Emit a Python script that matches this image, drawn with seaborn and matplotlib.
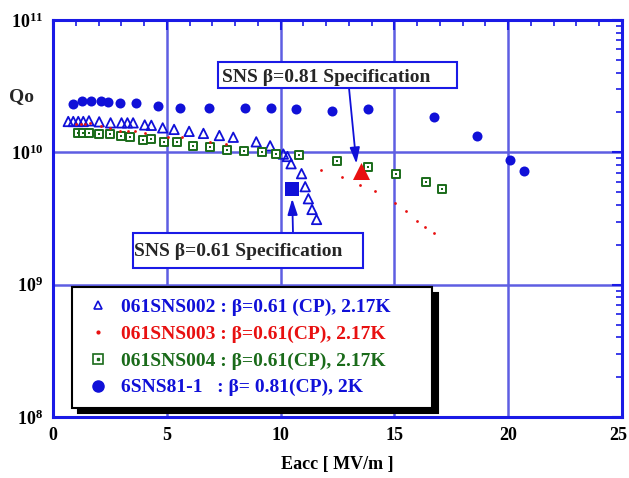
import numpy as np
import pandas as pd
import matplotlib
matplotlib.use("Agg")
import matplotlib.pyplot as plt
import matplotlib.transforms as mtransforms
import seaborn as sns
from matplotlib.lines import Line2D
from matplotlib.patches import Rectangle
from matplotlib.ticker import MultipleLocator, LogLocator, NullFormatter

# ---------------- data ----------------
tri_x = [0.67, 0.89, 1.11, 1.33, 1.58, 2.03, 2.53, 3.01, 3.27, 3.52, 4.03, 4.32, 4.82, 5.32,
         5.98, 6.61, 7.31, 7.92, 8.93, 9.54, 10.12, 10.30, 10.46, 10.92, 11.08, 11.22, 11.38, 11.58]
tri_y = [1.71e10, 1.71e10, 1.71e10, 1.71e10, 1.73e10, 1.70e10, 1.67e10, 1.67e10, 1.67e10, 1.67e10,
         1.61e10, 1.60e10, 1.53e10, 1.49e10, 1.44e10, 1.39e10, 1.34e10, 1.30e10, 1.20e10, 1.12e10,
         9.7e9, 9.3e9, 8.2e9, 6.9e9, 5.5e9, 4.46e9, 3.7e9, 3.11e9]

dot_x = [1.01, 1.21, 1.40, 1.62, 2.09, 2.50, 2.96, 3.30, 3.59, 4.03, 5.05, 5.68, 6.92, 7.60,
         11.79, 12.71, 13.49, 14.13, 15.02, 15.50, 15.99, 16.36, 16.73]
dot_y = [1.63e10, 1.63e10, 1.63e10, 1.66e10, 1.59e10, 1.54e10, 1.46e10, 1.46e10, 1.46e10, 1.41e10,
         1.30e10, 1.30e10, 1.20e10, 1.15e10, 7.4e9, 6.46e9, 5.68e9, 5.07e9, 4.16e9, 3.62e9,
         3.04e9, 2.71e9, 2.46e9]

sq_x = [1.11, 1.33, 1.59, 2.03, 2.50, 2.98, 3.37, 3.95, 4.32, 4.87, 5.44, 6.17, 6.90, 7.63,
        8.41, 9.18, 9.79, 10.79, 12.48, 13.84, 15.05, 16.41, 17.08]
sq_y = [1.41e10, 1.41e10, 1.41e10, 1.37e10, 1.37e10, 1.34e10, 1.31e10, 1.24e10, 1.26e10, 1.20e10,
        1.20e10, 1.12e10, 1.10e10, 1.05e10, 1.02e10, 1.00e10, 9.7e9, 9.6e9, 8.6e9, 7.8e9,
        6.9e9, 6.0e9, 5.3e9]

circ_x = [0.86, 1.26, 1.68, 2.10, 2.42, 2.95, 3.63, 4.60, 5.57, 6.86, 8.44, 9.59, 10.68, 12.27,
          13.85, 16.72, 18.62, 20.08, 20.70]
circ_y = [2.33e10, 2.45e10, 2.45e10, 2.45e10, 2.40e10, 2.35e10, 2.35e10, 2.24e10, 2.18e10,
          2.18e10, 2.18e10, 2.18e10, 2.12e10, 2.07e10, 2.12e10, 1.84e10, 1.32e10, 8.7e9, 7.2e9]

spec61_x, spec61_y = [10.51], [5.25e9]
spec81_x, spec81_y = [13.53], [7.2e9]

labels = ["061SNS002 : \u03b2=0.61 (CP), 2.17K",
          "061SNS003 : \u03b2=0.61(CP), 2.17K",
          "061SNS004 : \u03b2=0.61(CP), 2.17K",
          "6SNS81-1   : \u03b2= 0.81(CP), 2K"]
spec_labels = ["SNS \u03b2=0.81 Specification", "SNS \u03b2=0.61 Specification"]
x_ticks = [0, 5, 10, 15, 20, 25]
y_ticks = [1e8, 1e9, 1e10, 1e11]
y_ticklabels = [r"$\mathbf{10^{8}}$", r"$\mathbf{10^{9}}$", r"$\mathbf{10^{10}}$", r"$\mathbf{10^{11}}$"]

# ---------------- style ----------------
sns.set_theme(style="white")
plt.rcParams["font.family"] = ["Liberation Serif", "DejaVu Serif"]
plt.rcParams["font.weight"] = "bold"
plt.rcParams["mathtext.fontset"] = "custom"
plt.rcParams["mathtext.rm"] = "Liberation Serif:bold"
plt.rcParams["mathtext.bf"] = "Liberation Serif:bold"
plt.rcParams["mathtext.it"] = "Liberation Serif:bold"

BLUE = "#1010d8"
AXBLUE = "#1a1ae6"
GRID = "#5e5ee2"
RED = "#e81010"
GREEN = "#1a6b1a"

W, H = 629, 478
fig = plt.figure(figsize=(W / 100, H / 100), dpi=100)
ax = fig.add_axes([53 / W, 1 - 417 / H, 569 / W, 397 / H])

df_tri = pd.DataFrame({"x": tri_x, "y": tri_y})
df_dot = pd.DataFrame({"x": dot_x, "y": dot_y})
df_sq = pd.DataFrame({"x": sq_x, "y": sq_y})
df_circ = pd.DataFrame({"x": circ_x, "y": circ_y})

sns.scatterplot(data=df_circ, x="x", y="y", ax=ax, marker="o", s=52, color=BLUE,
                edgecolor=BLUE, linewidth=0, zorder=3)
sns.scatterplot(data=df_tri, x="x", y="y", ax=ax, marker="^", s=46, color=BLUE,
                facecolors="none", edgecolors=BLUE, linewidths=1.3, zorder=3)
sns.scatterplot(data=df_sq, x="x", y="y", ax=ax, marker="s", s=38, color=GREEN,
                facecolors="white", edgecolors=GREEN, linewidths=1.4, zorder=3)
sns.scatterplot(data=df_sq, x="x", y="y", ax=ax, marker="s", s=2.5, color=GREEN,
                edgecolor=GREEN, linewidth=0, zorder=4)
sns.scatterplot(data=df_dot, x="x", y="y", ax=ax, marker="o", s=4, color=RED,
                edgecolor=RED, linewidth=0, zorder=4)
sns.scatterplot(x=spec61_x, y=spec61_y, ax=ax, marker="s", s=95, color=BLUE,
                edgecolor=BLUE, linewidth=0, zorder=5)
sns.scatterplot(x=spec81_x, y=spec81_y, ax=ax, marker="^", s=150, color=RED,
                edgecolor=RED, linewidth=0, zorder=5)

ax.set_yscale("log")
ax.set_xlim(0, 25)
ax.set_ylim(1e8, 1e11)
ax.set_xticks(x_ticks)
ax.set_xticklabels([str(t) for t in x_ticks], fontsize=13, fontweight="bold")
ax.xaxis.set_minor_locator(MultipleLocator(1))
ax.set_yticks(y_ticks)
ax.set_yticklabels(y_ticklabels, fontsize=13)
ax.yaxis.set_minor_locator(LogLocator(base=10, subs=np.arange(2, 10), numticks=20))
ax.yaxis.set_minor_formatter(NullFormatter())

ax.grid(True, which="major", color=GRID, linewidth=1.8, zorder=1)
ax.set_axisbelow(True)
for sp in ax.spines.values():
    sp.set_color(AXBLUE)
    sp.set_linewidth(2.2)
ax.tick_params(which="both", direction="in", top=True, right=True, colors=AXBLUE,
               labelcolor="black")
ax.tick_params(which="major", length=7, width=1.5)
ax.tick_params(which="minor", length=4, width=1.2)
ax.tick_params(axis="x", pad=7)
ax.tick_params(axis="y", pad=7)

# nudge the last x tick label a little so it stays inside the canvas
last_tick = ax.xaxis.get_major_ticks()[-1]
last_tick.label1.set_transform(last_tick.label1.get_transform() +
                               mtransforms.ScaledTranslation(-4 / 100, 0, fig.dpi_scale_trans))

ax.set_xlabel("Eacc [ MV/m ]", fontsize=13, fontweight="bold", labelpad=9, color="black")
ax.set_ylabel("")
fig.text(21 / W, 1 - 97 / H, "Qo", fontsize=14, fontweight="bold", ha="center", va="center")

# ---------------- legend ----------------
h_tri = Line2D([], [], ls="none", marker="^", ms=6, mfc="none", mec=BLUE, mew=1.2)
h_dot = Line2D([], [], ls="none", marker="o", ms=2, mfc=RED, mec=RED)
h_sq = Line2D([], [], ls="none", marker="s", ms=6.5, mfc="white", mec=GREEN, mew=1.2)
h_sqd = Line2D([], [], ls="none", marker="s", ms=1.5, mfc=GREEN, mec=GREEN)
h_circ = Line2D([], [], ls="none", marker="o", ms=8, mfc=BLUE, mec=BLUE)
leg = ax.legend([h_tri, h_dot, (h_sq, h_sqd), h_circ], labels,
                loc="upper left", bbox_to_anchor=(19 / 569, 130 / 397, 360 / 569, 0.0),
                mode="expand", prop={"family": "Liberation Serif", "weight": "bold", "size": 14},
                frameon=True, fancybox=False, framealpha=1, edgecolor="black",
                borderpad=0.58, handlelength=1.5, handletextpad=0.45, labelspacing=0.47,
                borderaxespad=0, shadow={"ox": 4, "oy": -4, "color": "black", "alpha": 1})
leg.get_frame().set_linewidth(1.5)
for txt, c in zip(leg.get_texts(), [BLUE, RED, GREEN, BLUE]):
    txt.set_color(c)
leg.set_zorder(10)

# ---------------- specification annotations ----------------
def fpx(x, y):
    return (x / W, 1 - y / H)

# beta = 0.81 box
fig.add_artist(Rectangle(fpx(218, 88), 239 / W, 26 / H, transform=fig.transFigure,
                         facecolor="white", edgecolor=AXBLUE, linewidth=1.5, zorder=6))
fig.text(*fpx(222, 75), spec_labels[0], fontsize=14, fontweight="bold", ha="left",
         va="center_baseline", zorder=7)
ax.annotate("", xy=(spec81_x[0] - 0.2, spec81_y[0] * 1.14), xycoords="data",
            xytext=fpx(349, 88), textcoords="figure fraction",
            arrowprops=dict(arrowstyle="-|>,head_length=0.8,head_width=0.25",
                            color=BLUE, lw=1.3, shrinkA=0, shrinkB=0), zorder=6)

# beta = 0.61 box
fig.add_artist(Rectangle(fpx(133, 268), 230 / W, 35 / H, transform=fig.transFigure,
                         facecolor="white", edgecolor=AXBLUE, linewidth=1.5, zorder=6))
fig.text(*fpx(134, 250), spec_labels[1], fontsize=14, fontweight="bold", ha="left",
         va="center_baseline", zorder=7)
ax.annotate("", xy=(spec61_x[0], spec61_y[0] * 0.85), xycoords="data",
            xytext=fpx(293, 233), textcoords="figure fraction",
            arrowprops=dict(arrowstyle="-|>,head_length=0.8,head_width=0.25",
                            color=BLUE, lw=1.3, shrinkA=0, shrinkB=0), zorder=6)

fig.savefig("out.png", dpi=100)
